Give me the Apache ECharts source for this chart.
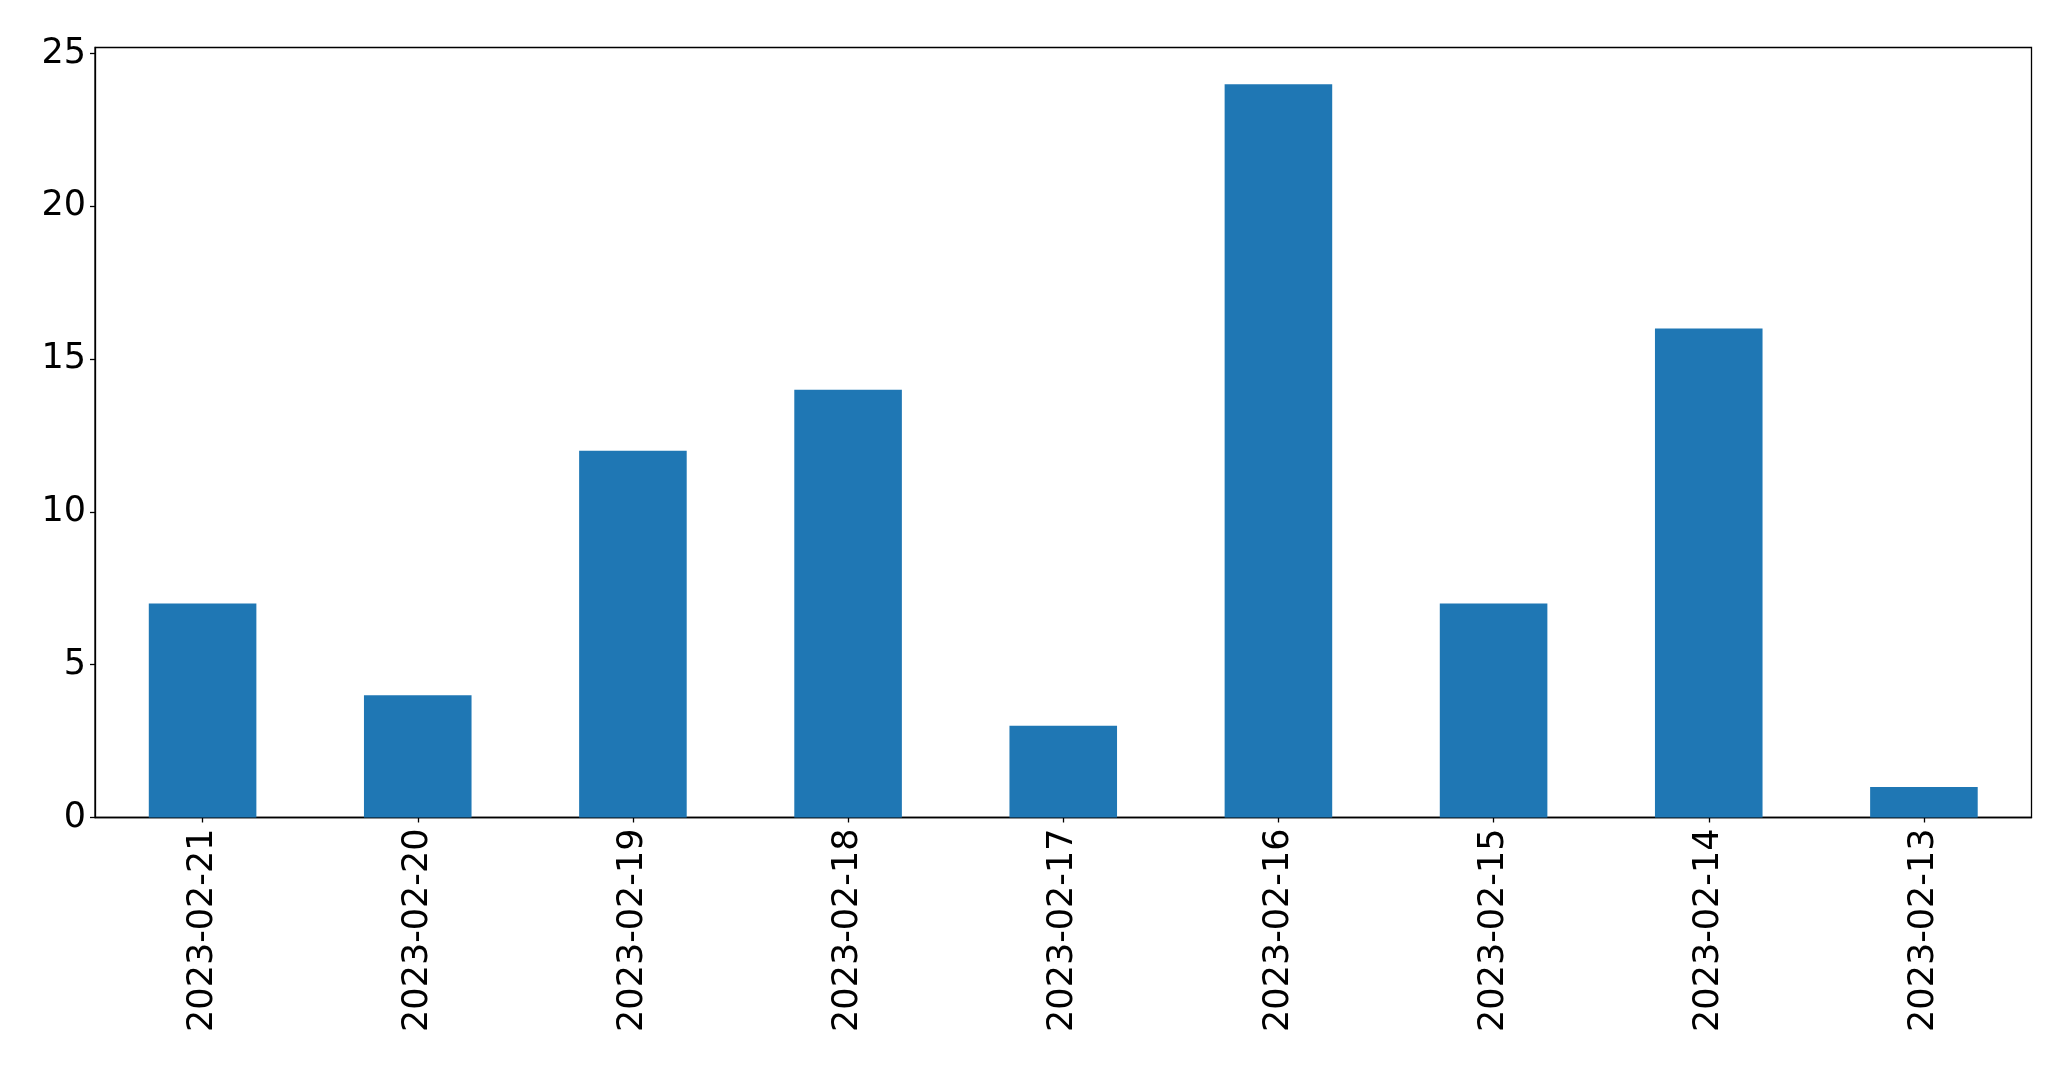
<!DOCTYPE html>
<html>
<head>
<meta charset="utf-8">
<script src="https://cdn.jsdelivr.net/npm/echarts@6/dist/echarts.min.js"></script>
<style>html,body{margin:0;padding:0;background:#fff}#c{width:2071px;height:1069px}</style>
</head>
<body>
<div id="c"></div>
<script>
var categories = ['2023-02-21','2023-02-20','2023-02-19','2023-02-18','2023-02-17','2023-02-16','2023-02-15','2023-02-14','2023-02-13'];
var values = [7, 4, 12, 14, 3, 24, 7, 16, 1];
var yTicks = [0, 5, 10, 15, 20, 25];

var chart = echarts.init(document.getElementById('c'), null, {renderer: 'canvas'});
var font = 'DejaVu Sans';
chart.setOption({
  animation: false,
  backgroundColor: '#fff',
  grid: {left: 95, right: 39.5, top: 47.5, bottom: 251.5, show: true, borderColor: '#000', borderWidth: 1.3, backgroundColor: 'transparent'},
  xAxis: {
    type: 'category',
    data: categories,
    axisLine: {show: true, lineStyle: {color: '#000', width: 1.3}},
    axisTick: {show: true, alignWithLabel: true, length: 5, lineStyle: {color: '#000', width: 1.3}},
    axisLabel: {rotate: 90, margin: 11, fontSize: 35, color: '#000', fontFamily: font, interval: 0},
    splitLine: {show: false}
  },
  yAxis: {
    type: 'value',
    min: 0, max: 25.2,
    axisLine: {show: true, lineStyle: {color: '#000', width: 1.3}},
    axisTick: {show: true, length: 5, lineStyle: {color: '#000', width: 1.3}, customValues: yTicks},
    axisLabel: {fontSize: 35, color: '#000', fontFamily: font, margin: 9, padding: [5, 0, 0, 0], customValues: yTicks},
    splitLine: {show: false}
  },
  series: [{
    type: 'bar',
    data: values,
    barWidth: '50%',
    itemStyle: {color: '#1f77b4'}
  }]
});
</script>
</body>
</html>
